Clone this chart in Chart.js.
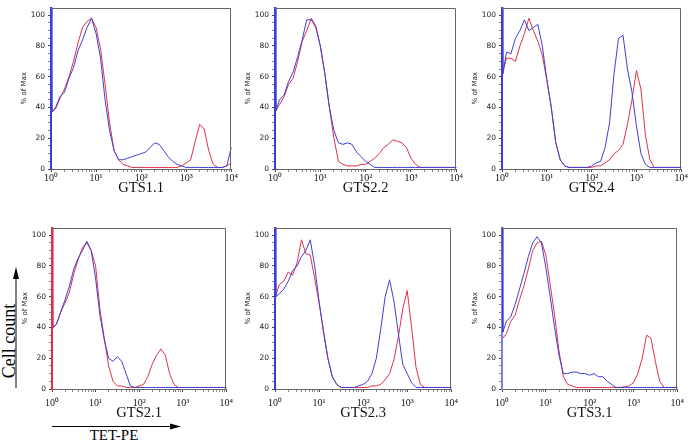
<!DOCTYPE html>
<html><head><meta charset="utf-8">
<script src="https://cdn.jsdelivr.net/npm/chart.js@4"></script>
<style>
html,body{margin:0;padding:0;background:#fff;}
#wrap{position:relative;width:693px;height:442px;overflow:hidden;background:#fff;}
#wrap canvas{position:absolute;}
#wrap svg{position:absolute;left:0;top:0;}
</style></head><body>
<div id="wrap">
<svg width="693" height="442">
 <line x1="16" y1="388" x2="16" y2="276" stroke="#000" stroke-width="1"/>
 <polygon points="16,267 13,279 19,279" fill="#000"/>
 <text transform="translate(15,341) rotate(-90)" text-anchor="middle" font-family="'Liberation Serif', serif" font-size="18" fill="#000">Cell count</text>
 <line x1="52" y1="426.5" x2="172" y2="426.5" stroke="#000" stroke-width="1"/>
 <polygon points="181,426.5 170,423.5 170,429.5" fill="#000"/>
 <text x="114" y="440" text-anchor="middle" font-family="'Liberation Serif', serif" font-size="15" fill="#000">TET-PE</text>
</svg>
</div>
<script>
// x positions as decade exponents (10^e), shared by all histograms
const logExp = [0, 0.02, 0.1, 0.2, 0.3, 0.4, 0.5, 0.6, 0.7, 0.8, 0.9, 1.0,
  1.1, 1.2, 1.3, 1.4, 1.5, 1.6, 1.7, 1.8, 1.9, 2.0,
  2.1, 2.2, 2.3, 2.4, 2.5, 2.6, 2.7, 2.8, 2.9, 3.0,
  3.1, 3.2, 3.3, 3.4, 3.5, 3.6, 3.7, 3.8, 3.9, 4.0];

const panelTitles = ['GTS1.1', 'GTS2.2', 'GTS2.4', 'GTS2.1', 'GTS2.3', 'GTS3.1'];
const xTickExponents = [0, 1, 2, 3, 4];
const yTickLabels = [0, 20, 40, 60, 80, 100];

// % of Max values
const blueGTS11 = [105,37,40,47,50,59,66,77,84,92,98,88,72,45,25,12,6,6,7,8,9,10,11,14,17,16,12,8,5,3,2,1,1,1,1,1,1,1,1,1,2,14];
const redGTS11  = [null,37,39,46,52,60,70,82,92,96,98,92,78,55,30,12,6,3,2,1,1,1,1,1,1,1,1,1,1,1,2,4,6,18,29,26,12,3,1,1,2,4];

const blueGTS22 = [105,38,45,48,57,63,73,84,97,97,92,80,62,40,25,17,16,17,16,11,8,5,3,1,1,1,1,1,1,1,1,1,1,1,1,1,1,1,1,1,1,1];
const redGTS22  = [null,38,42,47,55,59,70,83,90,98,93,80,62,40,20,5,3,2,2,2,3,3,5,7,10,14,16,19,18,17,14,7,3,1,1,1,1,1,1,1,1,1];

const blueGTS24 = [105,62,76,75,85,90,97,90,92,94,80,58,40,17,6,2,1,1,1,1,1,2,4,5,14,30,62,85,87,65,50,28,10,3,1,1,1,1,1,1,1,1];
const redGTS24  = [null,63,72,72,70,80,88,98,90,83,74,58,40,17,6,2,1,1,1,1,1,1,2,2,4,6,10,12,16,29,45,64,52,22,6,1,1,1,1,1,1,1];

const blueGTS21 = [null,40,42,50,58,67,78,85,90,96,90,72,48,32,20,18,21,18,10,2,1,1,1,1,1,1,1,1,1,1,1,1,1,1,1,1,1,1,1,1,1,1];
const redGTS21  = [105,40,42,50,56,63,75,84,92,95,90,80,52,33,15,5,2,2,1,1,1,2,3,8,16,22,26,22,10,3,1,1,1,1,1,1,1,1,1,1,1,1];

const blueGTS23 = [105,60,62,65,70,77,80,86,90,97,80,57,37,20,8,3,1,1,1,1,2,3,5,10,20,39,60,71,57,36,16,10,4,1,1,1,1,1,1,1,1,1];
const redGTS23  = [null,61,68,70,76,74,82,97,88,87,72,56,38,20,8,3,1,1,1,1,1,1,1,2,2,3,6,10,19,34,52,64,40,14,3,1,1,1,1,1,1,1];

const blueGTS31 = [105,37,44,47,55,65,75,86,95,99,95,79,60,40,22,10,10,11,11,10,10,9,10,8,8,5,3,1,1,1,1,1,1,1,1,1,1,1,1,1,1,1];
const redGTS31  = [null,33,36,44,48,58,67,78,90,95,96,87,68,48,25,8,3,2,1,1,1,1,1,1,1,1,1,1,1,1.5,2,4,10,20,35,33,18,5,1,1,1,1];

const BLUE = 'rgb(62,62,215)';
const RED = 'rgb(226,48,72)';
const SPIKE_LIGHT = 'rgb(120,130,230)';
const SUP = {0:'\u2070',1:'\u00B9',2:'\u00B2',3:'\u00B3',4:'\u2074'};

const panels = [
  {title: panelTitles[0], blue: blueGTS11, red: redGTS11, edge: BLUE, L: 51, R: 232, T: 2, B: 169, row: 0},
  {title: panelTitles[1], blue: blueGTS22, red: redGTS22, edge: BLUE, L: 275, R: 457, T: 2, B: 169, row: 0},
  {title: panelTitles[2], blue: blueGTS24, red: redGTS24, edge: BLUE, L: 502, R: 682, T: 2, B: 169, row: 0},
  {title: panelTitles[3], blue: blueGTS21, red: redGTS21, edge: RED, L: 52, R: 232, T: 222, B: 389, row: 1},
  {title: panelTitles[4], blue: blueGTS23, red: redGTS23, edge: BLUE, L: 275, R: 457, T: 222, B: 389, row: 1},
  {title: panelTitles[5], blue: blueGTS31, red: redGTS31, edge: SPIKE_LIGHT, L: 502, R: 683, T: 222, B: 389, row: 1}
];

const framePlugin = {
  id: 'frame',
  afterDatasetsDraw(chart) {
    const {ctx, chartArea: a} = chart;
    ctx.save();
    ctx.strokeStyle = '#666';
    ctx.lineWidth = 1;
    ctx.beginPath();
    ctx.moveTo(a.left, Math.round(a.top) + 0.5);
    ctx.lineTo(Math.round(a.right) - 0.5, Math.round(a.top) + 0.5);
    ctx.lineTo(Math.round(a.right) - 0.5, a.bottom);
    ctx.stroke();
    ctx.restore();
  }
};

const wrap = document.getElementById('wrap');
const xValues = logExp.map(e => Math.pow(10, e));
const serif = "'Liberation Serif', 'Times New Roman', serif";
const sans = "'DejaVu Sans', Verdana, sans-serif";

panels.forEach(p => {
  const YW = 45, PADR = 6, PADT = 2;
  const XH = p.row === 0 ? 28 : 33;
  const w = (p.R - p.L) + YW + PADR;
  const h = (p.B - p.T) + PADT + XH;
  const c = document.createElement('canvas');
  c.width = w; c.height = h;
  c.style.left = (p.L - YW) + 'px';
  c.style.top = (p.T - PADT) + 'px';
  c.style.width = w + 'px'; c.style.height = h + 'px';
  wrap.appendChild(c);
  const mk = (arr, color) => ({
    data: xValues.map((x, i) => ({x: x, y: arr[i]})),
    borderColor: color, borderWidth: 1, pointRadius: 0, tension: 0,
    clip: false, spanGaps: false, fill: false
  });
  new Chart(c, {
    type: 'line',
    data: {datasets: [mk(p.blue, BLUE), mk(p.red, RED)]},
    options: {
      responsive: false, animation: false, devicePixelRatio: 1,
      layout: {padding: {left: 0, right: PADR, top: PADT, bottom: 0}},
      plugins: {legend: {display: false}, tooltip: {enabled: false}},
      scales: {
        x: {
          type: 'logarithmic', min: 1, max: 10000,
          afterFit(s) { s.height = XH; },
          afterBuildTicks(s) {
            const t = [];
            xTickExponents.forEach(k => {
              for (let m = 1; m < 10; m++) {
                const v = m * Math.pow(10, k);
                if (v <= 10000) t.push({value: v, major: m === 1});
              }
            });
            s.ticks = t;
          },
          border: {color: '#666', width: 1},
          grid: {
            drawOnChartArea: false, drawTicks: true, tickLength: 3,
            tickColor: (ctx) => (ctx.tick && ctx.tick.major) ? '#444' : '#888'
          },
          ticks: {
            autoSkip: false, maxRotation: 0, minRotation: 0,
            padding: p.row === 0 ? 0 : 5,
            font: {family: serif, size: 10}, color: '#111',
            callback(v) {
              const e = Math.log10(v);
              const r = Math.round(e);
              return (Math.abs(e - r) < 1e-9 && xTickExponents.includes(r)) ? '10' + SUP[r] : '';
            }
          },
          title: {display: true, text: p.title, font: {family: serif, size: 14.5}, color: '#111', padding: 0}
        },
        y: {
          min: 0, max: 105,
          afterFit(s) { s.width = YW; },
          border: {color: p.edge, width: 2},
          grid: {
            drawOnChartArea: false, drawTicks: true, tickLength: 3,
            tickColor: (ctx) => (ctx.tick && yTickLabels.includes(ctx.tick.value)) ? '#444' : '#888'
          },
          ticks: {
            stepSize: 5, autoSkip: false, padding: 3,
            font: {family: sans, size: 7.5}, color: '#222',
            callback(v) {
              if (v > 100) return null;
              return yTickLabels.includes(v) ? String(v) : '';
            }
          },
          title: {display: true, text: '% of Max', font: {family: sans, size: 7}, color: '#222', padding: {top: 13.5, bottom: 0}}
        }
      }
    },
    plugins: [framePlugin]
  });
});
</script>
</body></html>
